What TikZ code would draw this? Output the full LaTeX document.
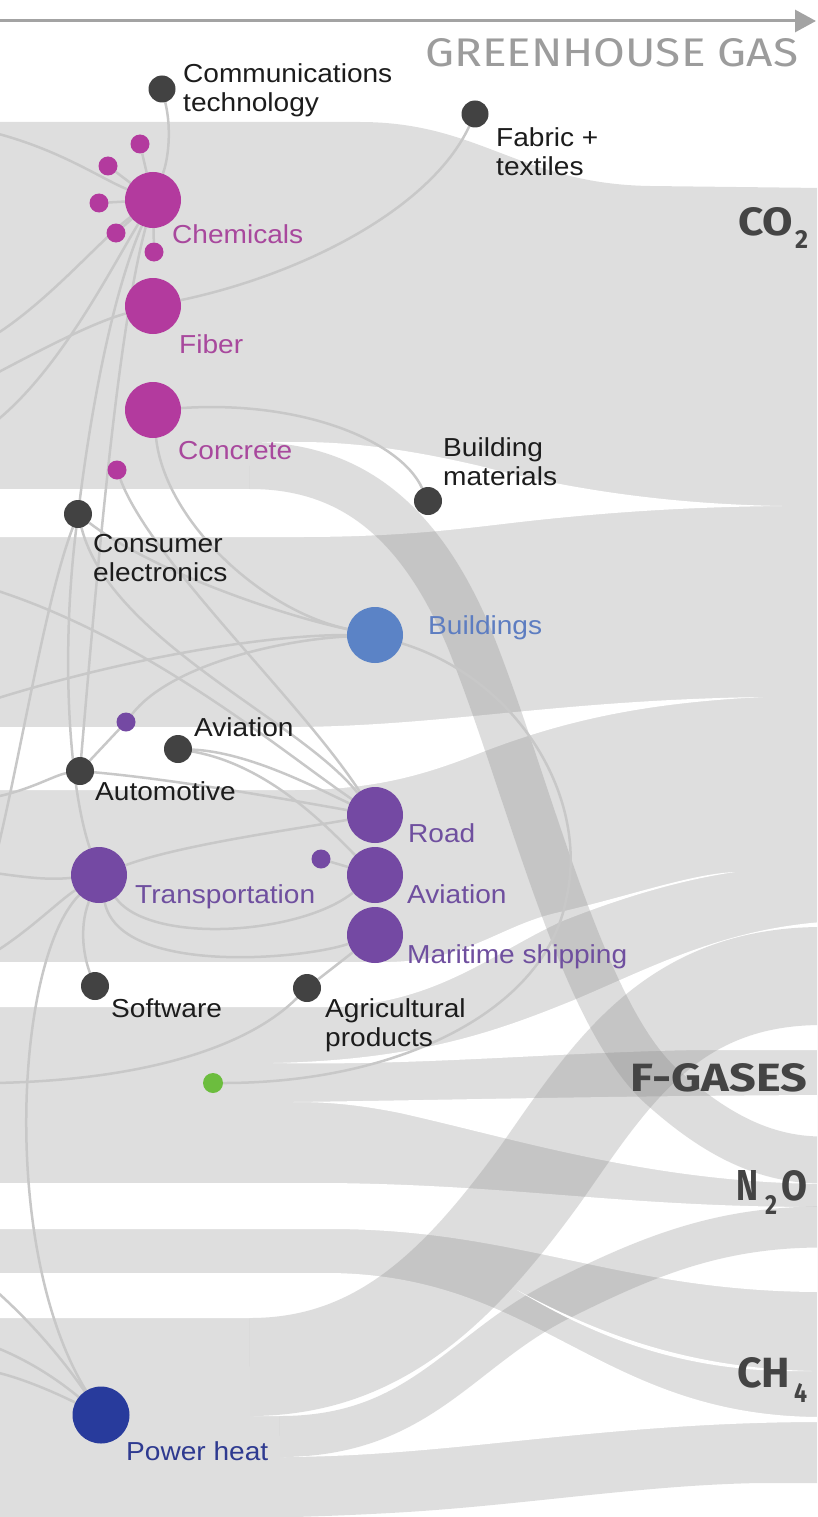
\documentclass[tikz,border=0pt]{standalone}
\usepackage{fontspec}
\usepackage{graphicx}
\setmainfont{Liberation Sans}
\newfontfamily\headfont{Fira Sans}
\usetikzlibrary{arrows.meta}

\definecolor{bandgray}{HTML}{DEDEDE}
\definecolor{crossgray}{HTML}{868686}
\definecolor{linkgray}{HTML}{C8C8C8}
\definecolor{darknode}{HTML}{424242}
\definecolor{labeltext}{HTML}{1C1C1C}
\definecolor{magnode}{HTML}{B33A9E}
\definecolor{magtext}{HTML}{A8489D}
\definecolor{bluenode}{HTML}{5B83C6}
\definecolor{bluetext}{HTML}{5D7DC1}
\definecolor{purplenode}{HTML}{7449A3}
\definecolor{purpletext}{HTML}{6F4F9F}
\definecolor{greennode}{HTML}{6CBD3E}
\definecolor{navynode}{HTML}{283B9C}
\definecolor{navytext}{HTML}{2E3A90}
\definecolor{gasgray}{HTML}{444444}
\definecolor{headgray}{HTML}{9C9C9C}
\definecolor{axisgray}{HTML}{A3A3A3}

\newcommand{\lblfont}{\fontsize{26}{29}\selectfont}
\newcommand{\lbl}[1]{\scalebox{1.08}[1]{#1}}
\newcommand{\twolines}[2]{\lbl{\begin{tabular}[t]{@{}l@{}}#1\\#2\end{tabular}}}

\pgfdeclarelayer{bands}
\pgfdeclarelayer{links}
\pgfsetlayers{bands,links,main}

\begin{document}
\begin{tikzpicture}[
    x=1pt, y=-1pt,
    gap/.style={fill=white},
    crossband/.style={draw=crossgray, draw opacity=0.273, line width=#1},
    link/.style={draw=linkgray, line width=2.5pt},
    dot/.style={circle, inner sep=0pt, minimum size=#1},
    lbl/.style={anchor=base west, inner sep=0pt, font=\lblfont, text=labeltext},
    gas/.style={anchor=north west, inner sep=0pt, text=gasgray, font=\headfont\bfseries},
    axis/.style={draw=axisgray, line width=3pt, -{Triangle[length=21pt,width=22pt]}}
]
\useasboundingbox (0,0) rectangle (817,1517);

\begin{pgfonlayer}{bands}
\clip (0,0) rectangle (817,1517);
% Flow bands
\fill[bandgray] (-5,122) -- (360,122) .. controls (480,122) and (520,184) .. (650,186) -- (822,188)
  -- (822,1483) -- (760,1483) .. controls (640,1485) and (520,1506) .. (390,1513)
  .. controls (300,1518) and (200,1520) .. (-5,1520) -- cycle;

% Gaps between flows
\fill[gap] (-5,489) -- (250,489) -- (250,442) -- (300,442) .. controls (360,442) and (420,452) .. (480,466)
  .. controls (560,487) and (660,504) .. (782,506) .. controls (680,507) and (600,513) .. (520,522)
  .. controls (460,529) and (400,537) .. (300,537) -- (-5,537) -- cycle;
\fill[gap] (-5,727) -- (300,727) .. controls (450,725) and (560,700) .. (763,697)
  .. controls (640,703) and (560,722) .. (480,753) .. controls (420,777) and (370,790) .. (292,790)
  -- (-5,790) -- cycle;
\fill[gap] (-5,962) -- (390,962) .. controls (470,960) and (500,925) .. (560,912)
  .. controls (630,896) and (690,874) .. (735,872) .. controls (680,880) and (620,898) .. (560,922)
  .. controls (490,955) and (440,1000) .. (340,1007) -- (-5,1007) -- cycle;
\fill[gap] (273,1063) .. controls (420,1060) and (500,1030) .. (574,1000)
  .. controls (650,968) and (720,930) .. (822,922) -- (822,1050) -- (700,1050)
  .. controls (560,1052) and (420,1066) .. (273,1063) -- cycle;
\fill[gap] (293,1102) .. controls (450,1100) and (600,1096) .. (822,1095) -- (822,1184)
  .. controls (650,1182) and (520,1140) .. (400,1113) .. controls (350,1103) and (320,1102) .. (293,1102) -- cycle;
\fill[gap] (-5,1183) -- (330,1183) .. controls (520,1185) and (620,1207) .. (822,1207)
  -- (822,1292) .. controls (620,1292) and (520,1229) .. (330,1229) -- (-5,1229) -- cycle;
\fill[gap] (-5,1273) -- (330,1273) .. controls (540,1275) and (600,1417) .. (822,1417)
  -- (822,1422) .. controls (600,1422) and (450,1457) .. (280,1457) -- (280,1416)
  -- (250,1416) -- (250,1318) -- (-5,1318) -- cycle;

% Crossing flows
\draw[crossband=47] (250,465.5) .. controls (350,465.5) and (420,520) .. (470,640)
  .. controls (530,790) and (580,1010) .. (660,1085) .. controls (710,1130) and (760,1160) .. (822,1160);
\draw[crossband=98] (250,1367) .. controls (380,1367) and (460,1285) .. (540,1175)
  .. controls (610,1075) and (670,976) .. (822,976);
\draw[crossband=41] (280,1436.5) .. controls (420,1436.5) and (460,1350) .. (560,1300)
  .. controls (650,1255) and (720,1227) .. (822,1227);

% Seam inside CH4
\fill[gap] (517,1290) .. controls (600,1335) and (690,1368) .. (812,1371)
  .. controls (690,1374) and (600,1340) .. (517,1290) -- cycle;
\end{pgfonlayer}

% Axis
\coordinate (axisstart) at (0,21);
\coordinate (axisend) at (816,21);
\draw[axis] (axisstart) -- (axisend);
\node[anchor=north west, inner sep=0pt, text=headgray, font=\headfont] (axislbl) at (425,38)
  {\resizebox{373pt}{28pt}{GREENHOUSE GAS}};

% Gas labels
\node[gas] (co2) at (738,207) {\resizebox{55pt}{28pt}{CO}};
\node[gas] (co2sub) at (795,230) {\resizebox{13pt}{18pt}{2}};
\node[gas] (fgas) at (630,1063) {\resizebox{177pt}{28pt}{F-GASES}};
\node[gas] (n2on) at (736,1170) {\resizebox{22pt}{30pt}{N}};
\node[gas] (n2osub) at (765,1195) {\resizebox{12pt}{19pt}{2}};
\node[gas] (n2oo) at (781,1170) {\resizebox{26pt}{30pt}{O}};
\node[gas] (ch4) at (737,1357) {\resizebox{53pt}{30pt}{CH}};
\node[gas] (ch4sub) at (794,1383) {\resizebox{13pt}{19pt}{4}};

% Loose ends at the left
\coordinate (in133) at (-5,133);
\coordinate (in335) at (-5,335);
\coordinate (in372) at (-5,374);
\coordinate (in420) at (-5,422);
\coordinate (in590) at (-5,590);
\coordinate (in697) at (-5,699);
\coordinate (in797) at (-5,797);
\coordinate (in873) at (-5,873);
\coordinate (in950) at (-5,952);
\coordinate (out860) at (-5,860);
\coordinate (in1083) at (-5,1083);
\coordinate (in1290) at (-5,1290);
\coordinate (in1347) at (-5,1347);
\coordinate (in1372) at (-5,1372);

% Nodes
\node[dot=27, fill=darknode] (comm) at (162,89) {};
\node[dot=27, fill=darknode] (fabric) at (475,114) {};
\node[dot=56, fill=magnode] (chem) at (153,200) {};
\node[dot=19, fill=magnode] (cd1) at (140,144) {};
\node[dot=19, fill=magnode] (cd2) at (108,166) {};
\node[dot=19, fill=magnode] (cd3) at (99,203) {};
\node[dot=19, fill=magnode] (cd4) at (116,233) {};
\node[dot=19, fill=magnode] (cd5) at (154,252) {};
\node[dot=56, fill=magnode] (fiber) at (153,306) {};
\node[dot=56, fill=magnode] (concrete) at (153,410) {};
\node[dot=19, fill=magnode] (cd6) at (117,470) {};
\node[dot=28, fill=darknode] (consumer) at (78,514) {};
\node[dot=28, fill=darknode] (bmat) at (428,501) {};
\node[dot=56, fill=bluenode] (buildings) at (375,635) {};
\node[dot=19, fill=purplenode] (pd1) at (126,722) {};
\node[dot=28, fill=darknode] (avdark) at (178,749) {};
\node[dot=28, fill=darknode] (auto) at (80,771) {};
\node[dot=56, fill=purplenode] (road) at (375,815) {};
\node[dot=56, fill=purplenode] (transport) at (99,875) {};
\node[dot=19, fill=purplenode] (pd2) at (321,859) {};
\node[dot=56, fill=purplenode] (avia) at (375,875) {};
\node[dot=56, fill=purplenode] (maritime) at (375,935) {};
\node[dot=28, fill=darknode] (software) at (95,986) {};
\node[dot=28, fill=darknode] (agri) at (307,988) {};
\node[dot=20, fill=greennode] (green) at (213,1083) {};
\node[dot=57, fill=navynode] (power) at (101,1415) {};

% Links
\begin{pgfonlayer}{links}
\clip (0,0) rectangle (817,1517);
\draw[link] (in133) .. controls (60,150) and (100,178) .. (chem);
\draw[link] (comm) .. controls (172,130) and (168,160) .. (chem);
\foreach \dotname in {cd1,cd2,cd3,cd4,cd5} \draw[link] (\dotname) -- (chem);
\draw[link] (fabric) .. controls (430,210) and (300,275) .. (fiber);
\draw[link] (in335) .. controls (50,300) and (100,240) .. (chem);
\draw[link] (in372) .. controls (50,345) and (95,322) .. (fiber);
\draw[link] (in420) .. controls (60,370) and (110,270) .. (chem);
\draw[link] (chem) .. controls (110,300) and (90,420) .. (consumer);
\draw[link] (chem) .. controls (118,330) and (98,560) .. (auto);
\draw[link] (concrete) .. controls (300,400) and (400,440) .. (bmat);
\draw[link] (concrete) .. controls (165,520) and (260,610) .. (buildings);
\draw[link] (cd6) .. controls (150,560) and (300,700) .. (road);
\draw[link] (consumer) .. controls (150,570) and (280,615) .. (buildings);
\draw[link] (consumer) .. controls (110,640) and (300,720) .. (road);
\draw[link] (consumer) .. controls (60,660) and (70,790) .. (transport);
\draw[link] (consumer) .. controls (45,600) and (20,760) .. (out860);
\draw[link] (in590) .. controls (150,640) and (280,750) .. (road);
\draw[link] (in697) .. controls (120,660) and (260,635) .. (buildings);
\draw[link] (pd1) .. controls (170,665) and (280,640) .. (buildings);
\draw[link] (auto) -- (pd1);
\draw[link] (avdark) .. controls (250,752) and (320,790) .. (road);
\draw[link] (avdark) .. controls (270,765) and (330,830) .. (avia);
\draw[link] (auto) .. controls (180,780) and (290,800) .. (road);
\draw[link] (in797) .. controls (30,790) and (55,775) .. (auto);
\draw[link] (transport) .. controls (180,845) and (290,830) .. (road);
\draw[link] (transport) .. controls (150,945) and (300,935) .. (avia);
\draw[link] (transport) .. controls (120,975) and (300,960) .. (maritime);
\draw[link] (transport) .. controls (78,930) and (85,960) .. (software);
\draw[link] (transport) .. controls (15,960) and (0,1250) .. (power);
\draw[link] (in873) .. controls (30,878) and (50,880) .. (transport);
\draw[link] (in950) .. controls (30,930) and (60,900) .. (transport);
\draw[link] (pd2) -- (avia);
\draw[link] (maritime) -- (agri);
\draw[link] (in1083) .. controls (150,1080) and (250,1045) .. (agri);
\draw[link] (buildings) .. controls (520,680) and (590,800) .. (566,900)
  .. controls (545,1010) and (400,1083) .. (green);
\draw[link] (in1290) .. controls (40,1330) and (70,1370) .. (power);
\draw[link] (in1347) .. controls (40,1365) and (70,1390) .. (power);
\draw[link] (in1372) .. controls (30,1380) and (70,1400) .. (power);
\end{pgfonlayer}

% Labels
\node[lbl] (commlbl) at (183,83) {\twolines{Communications}{technology}};
\node[lbl] (fabriclbl) at (496,147) {\twolines{Fabric +}{textiles}};
\node[lbl, text=magtext] (chemlbl) at (172,243) {\lbl{Chemicals}};
\node[lbl, text=magtext] (fiberlbl) at (179,353) {\lbl{Fiber}};
\node[lbl, text=magtext] (concretelbl) at (178,459) {\lbl{Concrete}};
\node[lbl] (bmatlbl) at (443,456) {\twolines{Building}{materials}};
\node[lbl] (consumerlbl) at (93,552) {\twolines{Consumer}{electronics}};
\node[lbl, text=bluetext] (buildingslbl) at (428,634) {\lbl{Buildings}};
\node[lbl] (avdarklbl) at (194,736) {\lbl{Aviation}};
\node[lbl] (autolbl) at (95,800) {\lbl{Automotive}};
\node[lbl, text=purpletext] (roadlbl) at (408,842) {\lbl{Road}};
\node[lbl, text=purpletext] (transportlbl) at (135,903) {\lbl{Transportation}};
\node[lbl, text=purpletext] (avialbl) at (407,903) {\lbl{Aviation}};
\node[lbl, text=purpletext] (maritimelbl) at (407,963) {\lbl{Maritime shipping}};
\node[lbl] (softwarelbl) at (111,1017) {\lbl{Software}};
\node[lbl] (agrilbl) at (325,1017) {\twolines{Agricultural}{products}};
\node[lbl, text=navytext] (powerlbl) at (126,1460) {\lbl{Power heat}};
\end{tikzpicture}
\end{document}
